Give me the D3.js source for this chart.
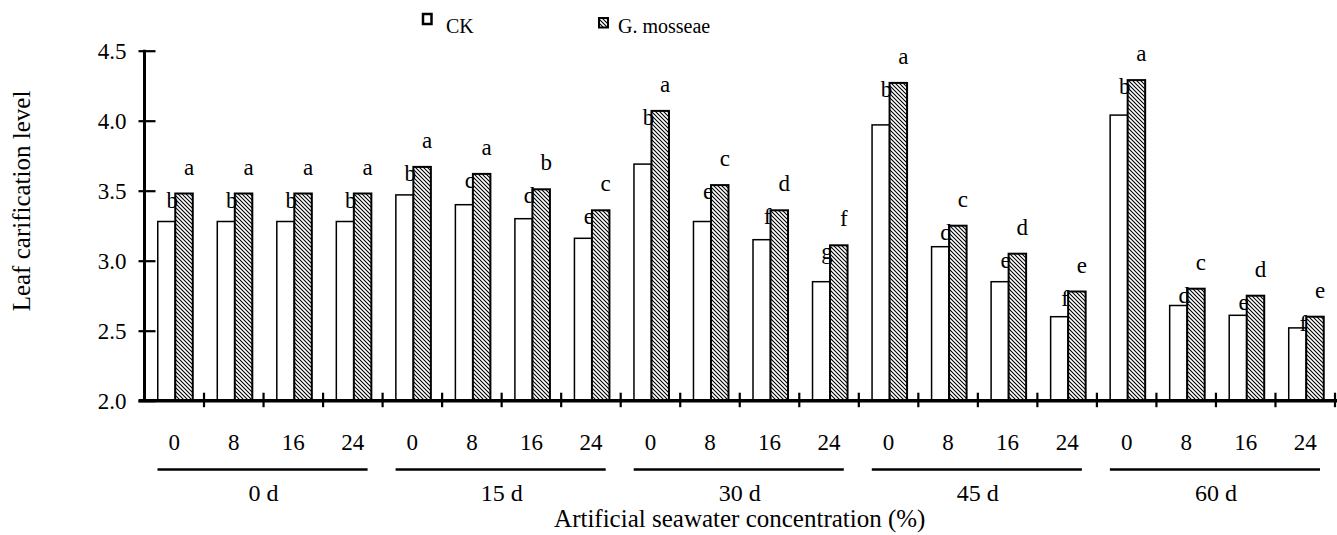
<!DOCTYPE html>
<html>
<head>
<meta charset="utf-8">
<script src="https://cdn.jsdelivr.net/npm/d3@7"></script>
<style>
  html, body { margin: 0; padding: 0; background: #fff; }
  svg text { font-family: "Liberation Serif", "Times New Roman", serif; fill: #000; }
</style>
</head>
<body>
<svg id="chart" width="1337" height="535"></svg>
<script>
// ---- data ----
const periods = ["0 d", "15 d", "30 d", "45 d", "60 d"];
const concentrations = ["0", "8", "16", "24"];
const seriesNames = ["CK", "G. mosseae"];
const ckValues = [3.28, 3.28, 3.28, 3.28, 3.47, 3.40, 3.30, 3.16, 3.69, 3.28, 3.15, 2.85, 3.97, 3.10, 2.85, 2.60, 4.04, 2.68, 2.61, 2.52];
const gmValues = [3.48, 3.48, 3.48, 3.48, 3.67, 3.62, 3.51, 3.36, 4.07, 3.54, 3.36, 3.11, 4.27, 3.25, 3.05, 2.78, 4.29, 2.80, 2.75, 2.60];
const ckLetters = ["b","b","b","b","b","c","d","e","b","e","f","g","b","d","e","f","b","d","e","f"];
const gmLetters = ["a","a","a","a","a","a","b","c","a","c","d","f","a","c","d","e","a","c","d","e"];
const yTicks = [2.0, 2.5, 3.0, 3.5, 4.0, 4.5];
const xTitle = "Artificial seawater concentration (%)";
const yTitle = "Leaf carification level";

// ---- build rows ----
const rows = [];
periods.forEach((p, i) => concentrations.forEach((c, j) => {
  const k = i * concentrations.length + j;
  rows.push({ key: p + "|" + c, period: p, conc: c, ck: ckValues[k], gm: gmValues[k], ckL: ckLetters[k], gmL: gmLetters[k] });
}));

const svg = d3.select("#chart");
const plotLeft = 144.5, plotRight = 1335, plotTop = 50.7, plotBottom = 400.7;

const x = d3.scaleBand().domain(rows.map(d => d.key)).range([plotLeft, plotRight]).padding(0);
const xg = d3.scaleBand().domain(periods).range([plotLeft, plotRight]).padding(0);
const xs = d3.scaleBand().domain(seriesNames).range([0, x.bandwidth()]).paddingInner(0).paddingOuter(0.7);
const y = d3.scaleLinear().domain([2.0, 4.5]).range([plotBottom, plotTop]);

// hatch pattern
const defs = svg.append("defs");
const pat = defs.append("pattern").attr("id", "hatch").attr("patternUnits", "userSpaceOnUse")
  .attr("width", 4).attr("height", 4);
pat.append("rect").attr("width", 4).attr("height", 4).attr("fill", "#fff");
pat.append("path").attr("d", "M-1,-1 L5,5 M-1,3 L1,5 M3,-1 L5,1")
  .attr("stroke", "#000").attr("stroke-width", 1.1);

const shift = 1;
// bars
const g = svg.append("g");
g.selectAll("rect.ck").data(rows).join("rect").attr("class", "ck")
  .attr("x", d => x(d.key) + xs("CK") + shift)
  .attr("y", d => y(d.ck))
  .attr("width", xs.bandwidth())
  .attr("height", d => y(2.0) - y(d.ck))
  .attr("fill", "#fff").attr("stroke", "#000").attr("stroke-width", 1.5);
g.selectAll("rect.gm").data(rows).join("rect").attr("class", "gm")
  .attr("x", d => x(d.key) + xs("G. mosseae") + shift)
  .attr("y", d => y(d.gm))
  .attr("width", xs.bandwidth())
  .attr("height", d => y(2.0) - y(d.gm))
  .attr("fill", "url(#hatch)").attr("stroke", "#000").attr("stroke-width", 2);

// letters
const fs = 23;
g.selectAll("text.ckl").data(rows).join("text").attr("class", "ckl")
  .attr("x", d => x(d.key) + xs("G. mosseae") + shift - 3)
  .attr("y", d => y(d.gm) + 14)
  .attr("text-anchor", "middle").attr("font-size", fs)
  .text(d => d.ckL);
g.selectAll("text.gml").data(rows).join("text").attr("class", "gml")
  .attr("x", d => x(d.key) + xs("G. mosseae") + shift + xs.bandwidth() / 2 + 5)
  .attr("y", d => y(d.gm) - 19)
  .attr("text-anchor", "middle").attr("font-size", fs)
  .text(d => d.gmL);

// y axis
const yAxis = d3.axisLeft(y).tickValues(yTicks).tickFormat(d3.format(".1f")).tickSize(5).tickPadding(13);
const ya = svg.append("g").attr("transform", `translate(${plotLeft},0)`).call(yAxis);
ya.select(".domain").remove();
ya.selectAll(".tick line").attr("x1", 11).attr("x2", -6).attr("stroke", "#000").attr("stroke-width", 2.2);
ya.selectAll(".tick text").attr("font-size", fs).attr("font-family", "Liberation Serif").attr("dy", "0.34em");
svg.append("line").attr("x1", plotLeft).attr("x2", plotLeft).attr("y1", plotTop - 1).attr("y2", plotBottom + 1)
  .attr("stroke", "#000").attr("stroke-width", 3);

// x axis
svg.append("line").attr("x1", plotLeft - 6).attr("x2", 1337).attr("y1", plotBottom).attr("y2", plotBottom)
  .attr("stroke", "#000").attr("stroke-width", 3.5);
const boundaries = rows.map(d => x(d.key)).concat([plotRight]).slice(1);
svg.selectAll("line.xt").data(boundaries).join("line").attr("class", "xt")
  .attr("x1", d => d).attr("x2", d => d).attr("y1", plotBottom - 8).attr("y2", plotBottom + 6.5)
  .attr("stroke", "#000").attr("stroke-width", 2.2);

// x tick labels
svg.selectAll("text.xl").data(rows).join("text").attr("class", "xl")
  .attr("x", d => x(d.key) + x.bandwidth() / 2)
  .attr("y", 450)
  .attr("text-anchor", "middle").attr("font-size", fs)
  .text(d => d.conc);

// group lines & labels
svg.selectAll("line.gl").data(periods).join("line").attr("class", "gl")
  .attr("x1", d => xg(d) + 13).attr("x2", d => xg(d) + xg.bandwidth() - 15)
  .attr("y1", 469.5).attr("y2", 469.5).attr("stroke", "#000").attr("stroke-width", 2.5);
svg.selectAll("text.gt").data(periods).join("text").attr("class", "gt")
  .attr("x", d => xg(d) + xg.bandwidth() / 2)
  .attr("y", 501)
  .attr("text-anchor", "middle").attr("font-size", 24)
  .text(d => d);

// axis titles
svg.append("text").attr("x", (plotLeft + plotRight) / 2).attr("y", 527)
  .attr("text-anchor", "middle").attr("font-size", 25).text(xTitle);
svg.append("text").attr("transform", "translate(30,201) rotate(-90)")
  .attr("text-anchor", "middle").attr("font-size", 25).text(yTitle);

// legend
const leg = svg.append("g");
leg.append("rect").attr("x", 423).attr("y", 14).attr("width", 8.5).attr("height", 10)
  .attr("fill", "#fff").attr("stroke", "#000").attr("stroke-width", 2.5);
leg.append("text").attr("x", 446).attr("y", 33).attr("font-size", 20).text(seriesNames[0]);
leg.append("rect").attr("x", 599).attr("y", 18).attr("width", 9).attr("height", 9.5)
  .attr("fill", "url(#hatch)").attr("stroke", "#000").attr("stroke-width", 2);
leg.append("text").attr("x", 618).attr("y", 33).attr("font-size", 20).text(seriesNames[1]);
</script>
</body>
</html>
